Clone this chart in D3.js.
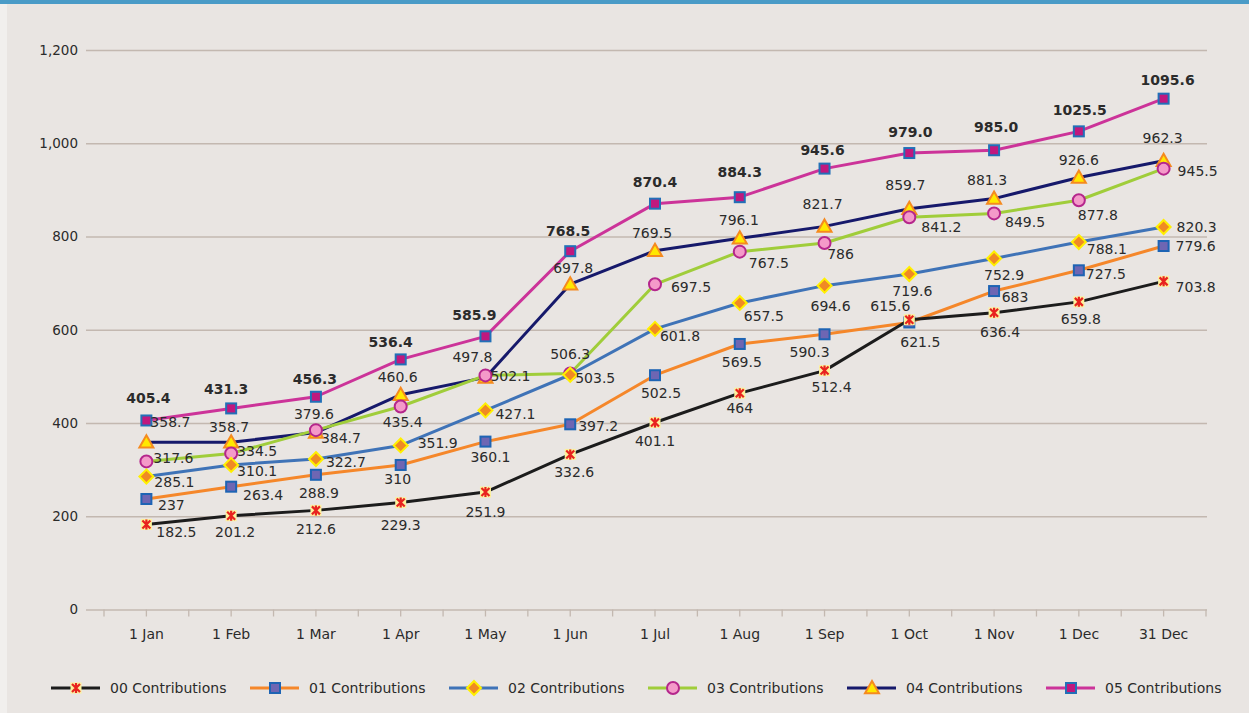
<!DOCTYPE html>
<html>
<head>
<meta charset="utf-8">
<script src="https://cdn.jsdelivr.net/npm/d3@7"></script>
<style>
  html, body { margin: 0; padding: 0; background: #e9e5e2; }
  svg { display: block; font-family: "DejaVu Sans", sans-serif; }
</style>
</head>
<body>
<svg id="chart" width="1249" height="713"></svg>
<script>
// categories on the x axis
const categories = ["1 Jan", "1 Feb", "1 Mar", "1 Apr", "1 May", "1 Jun", "1 Jul",
  "1 Aug", "1 Sep", "1 Oct", "1 Nov", "1 Dec", "31 Dec"];

const seriesNames = ["00 Contributions", "01 Contributions", "02 Contributions",
  "03 Contributions", "04 Contributions", "05 Contributions"];

const contrib00 = [182.5, 201.2, 212.6, 229.3, 251.9, 332.6, 401.1, 464, 512.4, 621.5, 636.4, 659.8, 703.8];
const contrib01 = [237, 263.4, 288.9, 310, 360.1, 397.2, 502.5, 569.5, 590.3, 615.6, 683, 727.5, 779.6];
const contrib02 = [285.1, 310.1, 322.7, 351.9, 427.1, 503.5, 601.8, 657.5, 694.6, 719.6, 752.9, 788.1, 820.3];
const contrib03 = [317.6, 334.5, 384.7, 435.4, 502.1, 506.3, 697.5, 767.5, 786, 841.2, 849.5, 877.8, 945.5];
const contrib04 = [358.7, 358.7, 379.6, 460.6, 497.8, 697.8, 769.5, 796.1, 821.7, 859.7, 881.3, 926.6, 962.3];
const contrib05 = [405.4, 431.3, 456.3, 536.4, 585.9, 768.5, 870.4, 884.3, 945.6, 979.0, 985.0, 1025.5, 1095.6];

const yTicks = [0, 200, 400, 600, 800, 1000, 1200];

const allSeries = [contrib00, contrib01, contrib02, contrib03, contrib04, contrib05];

// look of each series
const styles = [
  { line: "#1c1c1c", marker: "star",     fill: "#fcf29c", stroke: "#e8231f" },
  { line: "#f5872a", marker: "square",   fill: "#6e66b3", stroke: "#1e64b4" },
  { line: "#3f73b7", marker: "diamond",  fill: "#f08a24", stroke: "#fff000" },
  { line: "#a0cd3a", marker: "circle",   fill: "#f49ac9", stroke: "#b5268c" },
  { line: "#16196b", marker: "triangle", fill: "#ffe800", stroke: "#f58a1f" },
  { line: "#cc3399", marker: "square",   fill: "#c0187e", stroke: "#2270b8" }
];

// where each data label sits, relative to its point (label centre)
const labelOffsets = [
  [[30,8],[4,16],[0,19],[0,22],[0,20],[4,18],[0,19],[0,15],[7,16],[11,22],[6,19],[2,17],[32,6]],
  [[25,6],[32,8],[3,18],[-3,14],[5,15],[28,2],[6,18],[2,18],[-15,18],[-19,-16],[21,6],[27,4],[32,0]],
  [[28,5],[26,6],[30,3],[37,-2],[30,4],[25,3],[25,7],[24,13],[6,20],[3,17],[10,17],[28,7],[33,0]],
  [[27,-3],[26,-3],[25,8],[2,16],[25,1],[0,-19],[36,3],[29,11],[16,11],[32,10],[31,9],[19,15],[34,2]],
  [[24,-20],[-2,-15],[-2,-19],[-3,-18],[-13,-20],[3,-16],[-3,-18],[-1,-18],[-2,-22],[-4,-24],[-7,-19],[0,-17],[-1,-23]],
  [[2,-22],[-5,-19],[-1,-18],[-10,-17],[-11,-21],[-2,-20],[0,-22],[0,-25],[-2,-19],[1,-21],[2,-23],[1,-21],[4,-19]]
];

const svg = d3.select("#chart");
const textColor = "#2b2b2b";

// frame
svg.append("rect").attr("x", 0).attr("y", 0).attr("width", 1249).attr("height", 713).attr("fill", "#e9e5e2");
svg.append("rect").attr("x", 0).attr("y", 0).attr("width", 7).attr("height", 713).attr("fill", "#f1efed");
svg.append("rect").attr("x", 0).attr("y", 0).attr("width", 1249).attr("height", 4).attr("fill", "#4a9bc7");

const plotLeft = 104, plotRight = 1206, plotTop = 50, plotBottom = 609.5;
const gridLeft = 86, gridRight = 1207;

const x = d3.scaleBand().domain(categories).range([plotLeft, plotRight]).padding(0);
const cx = c => x(c) + x.bandwidth() / 2;
const y = d3.scaleLinear().domain([0, 1200]).range([plotBottom, plotTop]);

// y axis with gridlines
const yAxis = svg.append("g")
  .attr("transform", "translate(" + gridLeft + ",0)")
  .call(d3.axisLeft(y).tickValues(yTicks).tickFormat(d3.format(",")).tickSize(-(gridRight - gridLeft)).tickPadding(8));
yAxis.select(".domain").remove();
yAxis.selectAll(".tick line").attr("stroke", "#c3b8b0").attr("stroke-width", 1.3);
yAxis.selectAll(".tick text").attr("fill", textColor).style("font-size", "13.5px").style("font-family", "DejaVu Sans");

// x axis
const xAxis = svg.append("g")
  .attr("transform", "translate(0," + plotBottom + ")")
  .call(d3.axisBottom(x).tickSize(7).tickPadding(13));
xAxis.select(".domain").remove();
xAxis.selectAll(".tick line").attr("stroke", "#c3b8b0").attr("stroke-width", 1.3);
xAxis.selectAll(".tick text").attr("fill", textColor).style("font-size", "14px").style("font-family", "DejaVu Sans");

// extra ticks between categories
const edges = categories.map(c => x(c)).concat([x(categories[categories.length - 1]) + x.bandwidth()]);
xAxis.selectAll(".edge").data(edges).enter().append("line")
  .attr("class", "edge")
  .attr("x1", d => d).attr("x2", d => d)
  .attr("y1", 0).attr("y2", 7)
  .attr("stroke", "#c3b8b0").attr("stroke-width", 1.3);

function drawMarker(g, type, st, px, py, scale) {
  const s = scale || 1;
  if (type === "star") {
    const h = 5.5 * s;
    g.append("rect").attr("x", px - h).attr("y", py - h).attr("width", 2 * h).attr("height", 2 * h).attr("fill", st.fill);
    const a = 4 * s;
    g.append("path")
      .attr("d", "M" + (px - a) + "," + (py - a) + "L" + (px + a) + "," + (py + a) +
        "M" + (px - a) + "," + (py + a) + "L" + (px + a) + "," + (py - a) +
        "M" + px + "," + (py - a - 1) + "L" + px + "," + (py + a + 1))
      .attr("stroke", st.stroke).attr("stroke-width", 2.2).attr("fill", "none");
  } else if (type === "square") {
    const h = 5 * s;
    g.append("rect").attr("x", px - h).attr("y", py - h).attr("width", 2 * h).attr("height", 2 * h)
      .attr("fill", st.fill).attr("stroke", st.stroke).attr("stroke-width", 2);
  } else if (type === "diamond") {
    const h = 7 * s;
    g.append("path").attr("d", "M" + px + "," + (py - h) + "L" + (px + h) + "," + py + "L" + px + "," + (py + h) + "L" + (px - h) + "," + py + "Z")
      .attr("fill", st.fill).attr("stroke", st.stroke).attr("stroke-width", 2);
  } else if (type === "circle") {
    g.append("circle").attr("cx", px).attr("cy", py).attr("r", 6 * s)
      .attr("fill", st.fill).attr("stroke", st.stroke).attr("stroke-width", 2);
  } else if (type === "triangle") {
    const h = 7 * s;
    g.append("path").attr("d", "M" + px + "," + (py - h) + "L" + (px + h) + "," + (py + h * 0.75) + "L" + (px - h) + "," + (py + h * 0.75) + "Z")
      .attr("fill", st.fill).attr("stroke", st.stroke).attr("stroke-width", 2).attr("stroke-linejoin", "miter");
  }
}

const line = d3.line().x((d, i) => cx(categories[i])).y(d => y(d));

// series drawn last-to-first so 00 ends on top
for (let k = allSeries.length - 1; k >= 0; k--) {
  const g = svg.append("g");
  g.append("path").datum(allSeries[k]).attr("d", line)
    .attr("fill", "none").attr("stroke", styles[k].line).attr("stroke-width", 3).attr("stroke-linejoin", "round");
  allSeries[k].forEach((v, i) => drawMarker(g, styles[k].marker, styles[k], cx(categories[i]), y(v)));
}

// data labels
const fmt1 = d3.format(".1f");
allSeries.forEach((vals, k) => {
  const g = svg.append("g");
  vals.forEach((v, i) => {
    const off = labelOffsets[k][i];
    g.append("text")
      .attr("x", cx(categories[i]) + off[0])
      .attr("y", y(v) + off[1])
      .attr("text-anchor", "middle")
      .attr("dominant-baseline", "central")
      .attr("fill", textColor)
      .style("font-size", "14px")
      .style("font-weight", k === 5 ? "bold" : "normal")
      .text(k === 5 ? fmt1(v) : String(v));
  });
});

// legend
const legend = svg.append("g").attr("transform", "translate(51,688)");
seriesNames.forEach((name, k) => {
  const g = legend.append("g").attr("transform", "translate(" + (k * 199) + ",0)");
  g.append("line").attr("x1", 0).attr("x2", 49).attr("y1", 0).attr("y2", 0)
    .attr("stroke", styles[k].line).attr("stroke-width", 3);
  drawMarker(g, styles[k].marker, styles[k], 25, 0, 1);
  g.append("text").attr("x", 59).attr("y", 0).attr("dominant-baseline", "central")
    .attr("fill", textColor).style("font-size", "14px").text(name);
});
</script>
</body>
</html>
